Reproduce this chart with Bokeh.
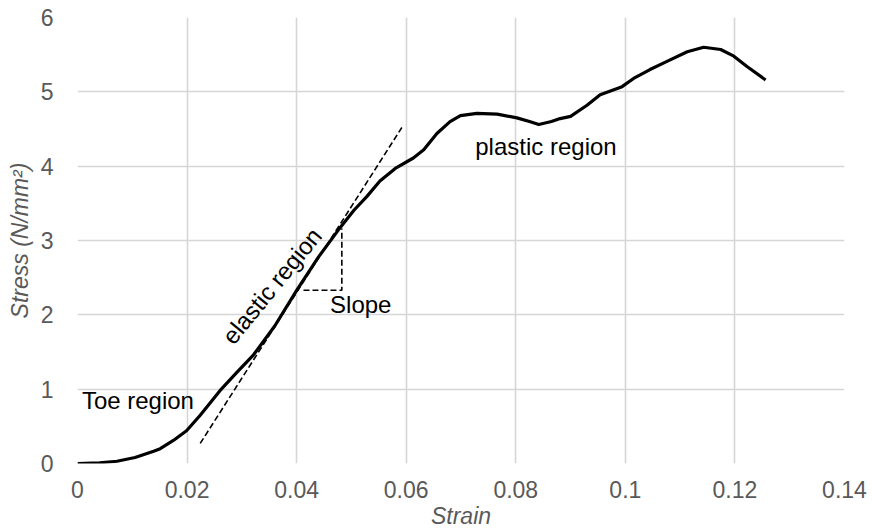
from bokeh.plotting import figure
from bokeh.models import Label, FixedTicker, Range1d, CustomJSTickFormatter
from bokeh.embed import file_html
from bokeh.resources import INLINE
import math

# Stress-strain curve of the specimen
strain = [0, 0.004, 0.0072, 0.0105, 0.0139, 0.0151, 0.0175, 0.0199, 0.0224, 0.026,
          0.029, 0.032, 0.036, 0.040, 0.044, 0.0476, 0.0505, 0.0528, 0.0552, 0.058,
          0.0613, 0.0632, 0.0656, 0.068, 0.0699, 0.0729, 0.0766, 0.0802, 0.0825, 0.0842,
          0.0865, 0.0881, 0.090, 0.093, 0.0954, 0.0994, 0.1015, 0.1045, 0.1076, 0.1113,
          0.1143, 0.1174, 0.1198, 0.1222, 0.1256]
stress = [0, 0.01, 0.03, 0.08, 0.166, 0.20, 0.31, 0.44, 0.65, 0.98,
          1.22, 1.45, 1.85, 2.33, 2.78, 3.14, 3.41, 3.59, 3.80, 3.97,
          4.11, 4.22, 4.44, 4.60, 4.68, 4.71, 4.70, 4.65, 4.60, 4.56,
          4.60, 4.64, 4.67, 4.82, 4.96, 5.07, 5.18, 5.30, 5.41, 5.54,
          5.60, 5.57, 5.48, 5.34, 5.16]

# Tangent line through the elastic region
tangent_strain = [0.0224, 0.0592]
tangent_stress = [0.27, 4.52]

# Slope triangle
slope_strain = [0.04125, 0.04825, 0.04825]
slope_stress = [2.33, 2.33, 3.16]

# Axis ticks
x_ticks = [0, 0.02, 0.04, 0.06, 0.08, 0.1, 0.12, 0.14]
x_tick_labels = ["0", "0.02", "0.04", "0.06", "0.08", "0.1", "0.12", "0.14"]
y_ticks = [0, 1, 2, 3, 4, 5, 6]

FONT = "Liberation Sans"
GREY = "#595959"

p = figure(width=872, height=531, x_range=Range1d(0, 0.14), y_range=Range1d(0, 6),
           output_backend="svg", toolbar_location=None,
           min_border_left=77, min_border_right=28, min_border_top=17, min_border_bottom=68)
p.outline_line_color = None
p.background_fill_color = "white"
p.border_fill_color = "white"

for ax in (p.xaxis, p.yaxis):
    ax.axis_line_color = None
    ax.major_tick_line_color = None
    ax.minor_tick_line_color = None
    ax.major_label_text_font = FONT
    ax.major_label_text_font_size = "23px"
    ax.major_label_text_color = GREY
    ax.axis_label_text_font = FONT
    ax.axis_label_text_font_size = "23px"
    ax.axis_label_text_font_style = "italic"
    ax.axis_label_text_color = GREY

p.xaxis.ticker = FixedTicker(ticks=x_ticks)
p.xaxis.formatter = CustomJSTickFormatter(args=dict(labels=x_tick_labels), code="return labels[index]")
p.yaxis.ticker = FixedTicker(ticks=y_ticks)
p.xaxis.major_label_standoff = 11
p.yaxis.major_label_standoff = 18
p.xaxis.axis_label = "Strain"
p.yaxis.axis_label = "Stress (N/mm²)"
p.xaxis.axis_label_standoff = 2
p.yaxis.axis_label_standoff = 5

p.xgrid.ticker = FixedTicker(ticks=x_ticks)
p.ygrid.ticker = FixedTicker(ticks=y_ticks)
for g in (p.xgrid, p.ygrid):
    g.grid_line_color = "#d6d6d6"
    g.grid_line_width = 1.6

p.line(strain, stress, line_color="black", line_width=3.2, line_join="round")
p.line(tangent_strain, tangent_stress, line_color="black", line_width=1.6, line_dash="6 3")
p.line(slope_strain, slope_stress, line_color="black", line_width=1.6, line_dash="6 3")

def note(x, y, text, angle=0.0, align="left"):
    p.add_layout(Label(x=x, y=y, text=text, angle=angle, text_align=align,
                       text_baseline="middle", text_font=FONT, text_font_size="24px",
                       text_color="black"))

note(0.0008, 0.85, "Toe region")
note(0.0355, 2.39, "elastic region", angle=math.radians(50.7), align="center")
note(0.0461, 2.14, "Slope")
note(0.0726, 4.26, "plastic region")

open("out.html", "w").write(file_html(p, INLINE))
